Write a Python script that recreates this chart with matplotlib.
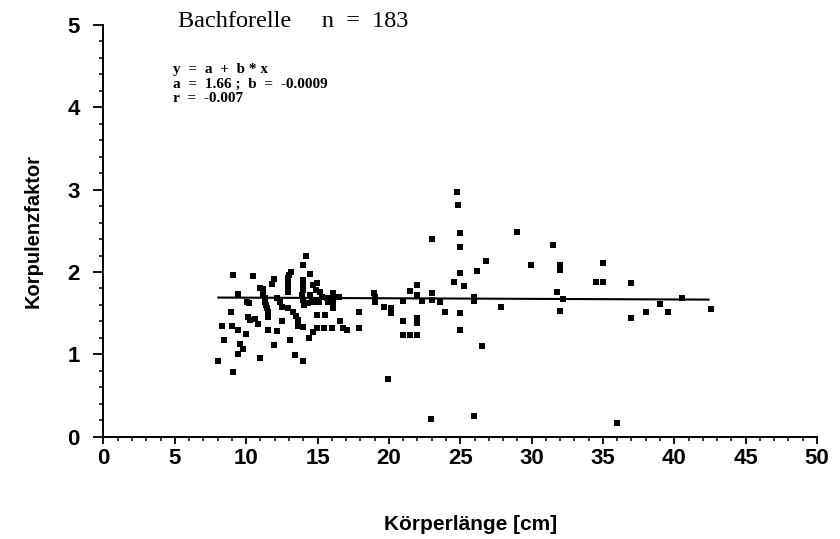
import matplotlib
matplotlib.use("Agg")
from matplotlib import pyplot as plt
from matplotlib.ticker import MultipleLocator

# Bachforelle: body length (cm) vs condition factor
laenge = [9.07, 10.5, 11.97, 11.78, 10.97, 11.2, 9.45, 10.03, 10.2,
          11.15, 11.3, 11.35, 11.4, 11.45, 11.5, 11.5,
          12.14, 12.5, 8.94, 10.1, 10.27, 10.6, 10.85, 12.5, 8.33, 8.98,
          9.45, 9.96, 11.55, 12.14, 8.47, 9.57, 9.8, 9.45, 11.97, 10.97,
          8.05, 9.05,
          14.17, 13.96, 14.47, 13.12, 13.02,
          12.93, 12.93, 12.93, 12.93, 12.9,
          13.96, 13.96, 13.96, 13.9, 13.96, 14.05,
          14.7, 14.98, 14.89, 15.17, 15.29, 15.12,
          14.47, 14.59, 14.35, 14.7,
          16.08, 16.1, 16.1, 16.05, 15.64, 15.75,
          12.37, 12.95, 13.3, 13.49, 13.65,
          13.65, 14.0, 14.94, 15.52, 14.94, 15.46, 16.0, 14.7, 14.42, 13.07,
          16.57, 16.8, 17.04, 17.93, 17.93, 13.42, 13.96, 16.5,
          23.0, 18.98, 19.03, 19.03, 19.68, 20.15, 20.15, 21.0, 21.0, 21.0,
          21.48, 21.95, 21.48, 21.95, 21.95, 22.3, 21.95, 21.95, 23.0, 23.0,
          23.6, 23.9, 19.92, 22.97,
          24.75, 24.86, 24.98, 24.98, 24.98, 24.56, 25.28, 26.2, 26.8, 29.0,
          29.96, 31.48, 31.99, 31.99, 31.76, 32.18, 31.99, 34.49, 35.03, 35.03,
          37.0, 37.0, 35.96, 25.96, 25.96, 25.96, 24.98, 24.98, 27.86, 26.5,
          38.0, 39.0, 39.54, 40.52, 42.55]
faktor = [1.965, 1.957, 1.92, 1.86, 1.80, 1.79, 1.73, 1.64, 1.62,
          1.72, 1.68, 1.64, 1.60, 1.56, 1.52, 1.45,
          1.69, 1.58, 1.51, 1.45, 1.42, 1.43, 1.37, 1.40, 1.345, 1.345,
          1.30, 1.25, 1.30, 1.28, 1.175, 1.13, 1.065, 1.01, 1.11, 0.96,
          0.92, 0.79,
          2.195, 2.086, 1.977, 2.005, 1.965,
          1.925, 1.884, 1.843, 1.80, 1.76,
          1.904, 1.843, 1.78, 1.72, 1.66, 1.60,
          1.843, 1.864, 1.78, 1.76, 1.70, 1.64,
          1.72, 1.66, 1.62, 1.64,
          1.74, 1.68, 1.62, 1.56, 1.68, 1.64,
          1.64, 1.56, 1.52, 1.46, 1.42,
          1.34, 1.33, 1.48, 1.48, 1.32, 1.32, 1.32, 1.275, 1.195, 1.18,
          1.40, 1.32, 1.30, 1.52, 1.32, 0.99, 0.92, 1.70,
          2.40, 1.74, 1.70, 1.64, 1.57, 1.56, 1.50, 1.65, 1.40, 1.23,
          1.23, 1.23, 1.77, 1.84, 1.72, 1.65, 1.44, 1.38, 1.74, 1.66,
          1.64, 1.51, 0.70, 0.21,
          2.97, 2.82, 2.47, 2.30, 1.99, 1.88, 1.835, 2.01, 2.13, 2.49,
          2.08, 2.33, 2.08, 2.025, 1.76, 1.67, 1.53, 1.876, 1.876, 2.107,
          1.864, 1.44, 0.17, 0.255, 1.70, 1.65, 1.50, 1.30, 1.57, 1.10,
          1.51, 1.61, 1.52, 1.69, 1.555]

# regression line as drawn in the scan (ends of the line)
line_x = [8.05, 42.4]
line_y = [1.69, 1.665]

titel = "Bachforelle     n  =  183"
formel = ["y  =  a  +  b * x", "a  =  1.66 ;  b  =  -0.0009", "r  =  -0.007"]

sans = ["Liberation Sans", "DejaVu Sans"]
serif = ["Liberation Serif", "DejaVu Serif"]

fig = plt.figure(figsize=(8.4, 5.39), dpi=100)
ax = fig.add_axes([0.1232, 0.1898, 0.8494, 0.7638])

ax.plot(laenge, faktor, linestyle="none", marker="s", markersize=5,
        color="black", markeredgewidth=0)
ax.plot(line_x, line_y, color="black", linewidth=1.5)

ax.set_xlim(0, 50)
ax.set_ylim(0, 5)
ax.spines["top"].set_visible(False)
ax.spines["right"].set_visible(False)
ax.spines["left"].set_linewidth(1.4)
ax.spines["bottom"].set_linewidth(1.4)

ax.xaxis.set_major_locator(MultipleLocator(5))
ax.xaxis.set_minor_locator(MultipleLocator(1))
ax.yaxis.set_major_locator(MultipleLocator(1))
ax.yaxis.set_minor_locator(MultipleLocator(0.2))

ax.tick_params(axis="x", which="major", direction="out", length=5, width=1.3, pad=3)
ax.tick_params(axis="x", which="minor", direction="out", length=3, width=1.1)
ax.tick_params(axis="y", which="major", direction="out", length=7, width=1.3, pad=10)
ax.tick_params(axis="y", which="minor", direction="out", length=3, width=1.1)

for lab in ax.get_xticklabels() + ax.get_yticklabels():
    lab.set_family(sans)
    lab.set_fontsize(16)
    lab.set_fontweight("bold")

# title and regression text inside the plot
ax.text(5.2, 4.97, titel, family=serif, fontsize=17.5, va="baseline")
for i, zeile in enumerate(formel):
    ax.text(4.85, 4.42 - i * 0.178, zeile, family=serif, fontsize=11,
            fontweight="bold", va="baseline")

fig.text(0.039, 0.571, "Korpulenzfaktor", family=sans, fontsize=14.5,
         fontweight="bold", rotation=90, ha="center", va="center")
fig.text(0.56, 0.026, "Körperlänge [cm]", family=sans, fontsize=15,
         fontweight="bold", ha="center", va="center")

fig.savefig("out.png", dpi=100)
